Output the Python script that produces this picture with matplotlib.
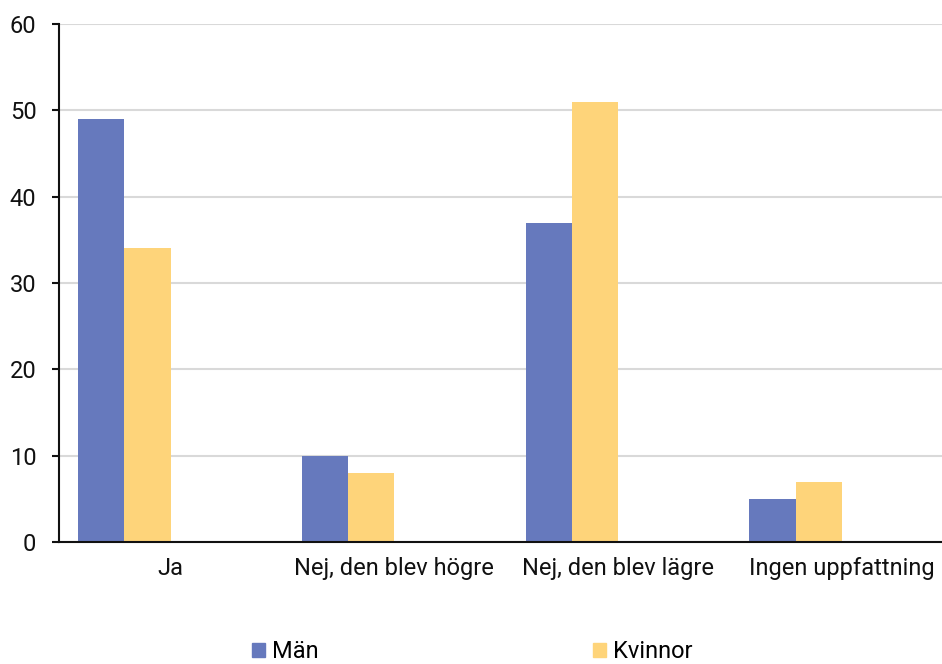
import matplotlib
matplotlib.use('Agg')
import matplotlib.pyplot as plt
import numpy as np
from matplotlib.patches import Patch

plt.rcParams['font.family'] = ['Roboto', 'DejaVu Sans']

categories = ['Ja', 'Nej, den blev högre', 'Nej, den blev lägre', 'Ingen uppfattning']
man = [49, 10, 37, 5]
kvinnor = [34, 8, 51, 7]
series_names = ['Män', 'Kvinnor']
yticks = [0, 10, 20, 30, 40, 50, 60]

blue = '#6679BD'
yellow = '#FED47A'

fig = plt.figure(figsize=(9.42, 6.64), dpi=100)
W, H = 942, 664
ax = fig.add_axes([58.7 / W, 122 / H, 894.8 / W, 518 / H])

x = np.arange(len(categories)) + 0.5
w = 0.206
ax.bar(x - 1.5 * w, man, width=w, color=blue, zorder=3)
ax.bar(x - 0.5 * w, kvinnor, width=w, color=yellow, zorder=3)

ax.set_xlim(0, len(categories))
ax.set_ylim(0, 60)
ax.set_yticks(yticks)
ax.set_xticks(x)
ax.set_xticklabels(categories, fontsize=17)
ax.tick_params(axis='x', length=0, pad=11, colors='#111111')
ax.tick_params(axis='y', length=5, width=1.5, direction='out', pad=11,
               labelsize=17, colors='#111111')
ax.yaxis.grid(True, color='#D9D9D9', linewidth=1.5, zorder=0)
for s in ['top', 'right']:
    ax.spines[s].set_visible(False)
for s in ['left', 'bottom']:
    ax.spines[s].set_linewidth(1.5)
    ax.spines[s].set_color('#111111')
    ax.spines[s].set_zorder(4)

handles = [Patch(color=blue, label=series_names[0]),
           Patch(color=yellow, label=series_names[1])]
fig.legend(handles=handles, loc='center left', bbox_to_anchor=(252 / W, 1 - 652 / H),
           ncol=2, frameon=False, fontsize=17, handlelength=0.55, handleheight=0.55,
           handletextpad=0.3, columnspacing=11.6, borderaxespad=0, borderpad=0)

fig.savefig('out.png', dpi=100)
